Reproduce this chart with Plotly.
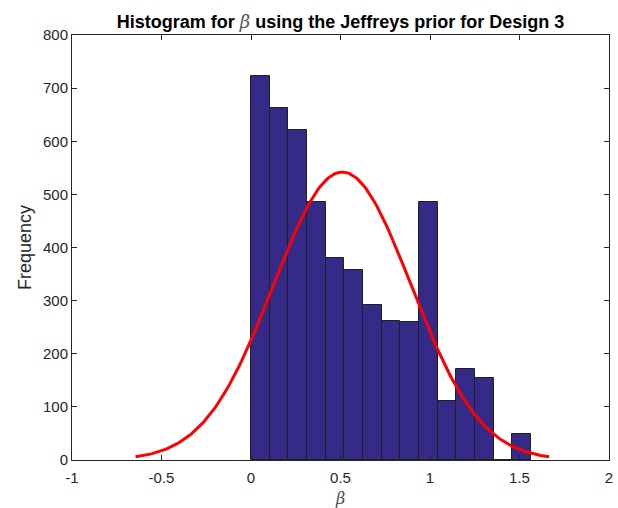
import numpy as np
import plotly.graph_objects as go

# Histogram of posterior draws of beta (15 equal-width bins starting at 0)
bin_start = 0.0
bin_width = 0.1043
counts = [723, 662, 621, 486, 381, 357, 291, 261, 259, 486, 112, 171, 155, 0, 49]

# Normal fit overlaid on the histogram
fit_mu = 0.51
fit_sigma = 0.385

centers = [bin_start + (i + 0.5) * bin_width for i in range(len(counts))]
n_total = sum(counts)
xs = np.linspace(fit_mu - 3 * fit_sigma, fit_mu + 3 * fit_sigma, 200)
ys = n_total * bin_width * np.exp(-0.5 * ((xs - fit_mu) / fit_sigma) ** 2) / (fit_sigma * np.sqrt(2 * np.pi))

axis_color = "#262626"
font_family = "Liberation Sans, Arial, sans-serif"

fig = go.Figure()
fig.add_trace(go.Bar(
    x=centers, y=counts, width=bin_width,
    marker=dict(color="#352a87", line=dict(color="#202020", width=1)),
    showlegend=False,
))
fig.add_trace(go.Scatter(
    x=xs, y=ys, mode="lines",
    line=dict(color="#ff0000", width=3),
    showlegend=False,
))

fig.update_layout(
    width=618, height=508,
    margin=dict(l=72, r=9, t=35, b=48),
    paper_bgcolor="white", plot_bgcolor="white",
    bargap=0,
    font=dict(family=font_family, size=15, color=axis_color),
    title=dict(
        text="Histogram for <span style='font-family:DejaVu Serif;font-weight:normal;color:#555'><i>β</i></span> using the Jeffreys prior for Design 3",
        x=0.551, xanchor="center", y=0.957, yanchor="middle",
        font=dict(family=font_family, size=18, color="black", weight="bold"),
    ),
    xaxis=dict(
        range=[-1, 2], tickvals=[-1, -0.5, 0, 0.5, 1, 1.5, 2],
        ticktext=["-1", "-0.5", "0", "0.5", "1", "1.5", "2"],
        ticks="inside", ticklen=5, tickcolor=axis_color, mirror="ticks",
        ticklabelstandoff=4, automargin=False,
        showline=True, linecolor=axis_color, linewidth=1,
        showgrid=False, zeroline=False,
        title=dict(text="<i>β</i>", font=dict(family="DejaVu Serif", size=16, color="#4d4d4d"), standoff=8),
    ),
    yaxis=dict(
        range=[0, 800], tickvals=list(range(0, 801, 100)),
        ticks="inside", ticklen=5, tickcolor=axis_color, mirror="ticks",
        automargin=False,
        showline=True, linecolor=axis_color, linewidth=1,
        showgrid=False, zeroline=False,
        title=dict(text="Frequency", font=dict(family=font_family, size=18, color=axis_color), standoff=6),
    ),
)

fig.write_html("out.html")
